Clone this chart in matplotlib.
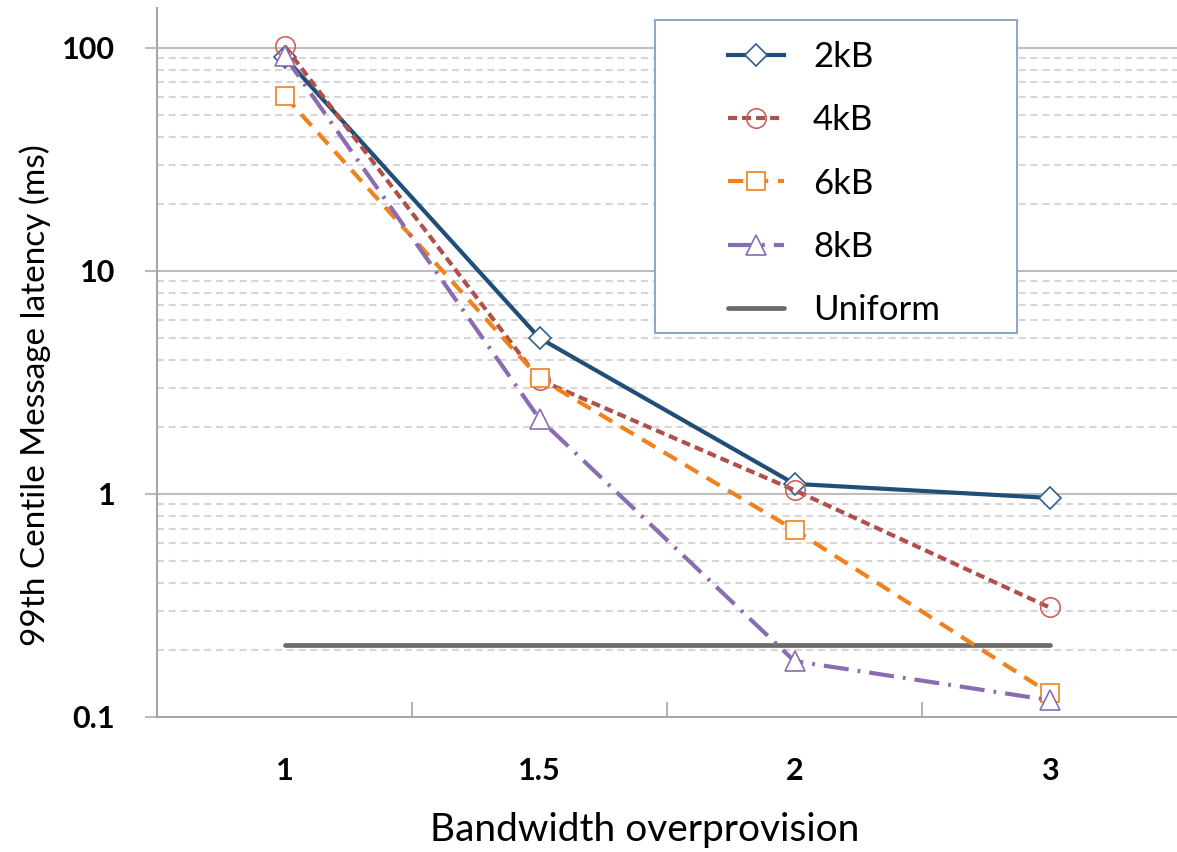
import matplotlib
matplotlib.use("Agg")
import matplotlib.pyplot as plt
from matplotlib.ticker import FixedLocator, NullFormatter
from matplotlib.patches import Rectangle
import numpy as np

plt.rcParams['font.family'] = ['Lato', 'DejaVu Sans']
plt.rcParams['lines.scale_dashes'] = False

categories = ["1", "1.5", "2", "3"]
lat_2kB = [91, 5.0, 1.11, 0.96]
lat_4kB = [102, 3.25, 1.04, 0.31]
lat_6kB = [61, 3.3, 0.69, 0.128]
lat_8kB = [92, 2.17, 0.178, 0.119]
uniform = [0.21, 0.21, 0.21, 0.21]

x = np.arange(len(categories))

W, H = 1177, 852
fig = plt.figure(figsize=(W / 100, H / 100), dpi=100)
ax = fig.add_axes([157 / W, 1 - 717 / H, 1 - 157 / W, (717 - 8) / H])
ax.set_yscale('log')
ax.set_ylim(0.1, 151)
ax.set_xlim(-0.5, 3.5)

# grid
major_y = [0.1, 1, 10, 100]
minor_y = [m * d for d in [0.1, 1, 10, 100] for m in range(2, 10)]
for v in minor_y:
    ax.axhline(v, color='#D6D6D6', lw=1.5, dashes=(5, 3.5), zorder=0)
for v in major_y[1:]:
    ax.axhline(v, color='#BDBDBD', lw=1.5, zorder=0)

lw = 3.0
ax.plot(x, uniform, color='#6B6B6B', lw=lw + 0.4, label='Uniform', zorder=2,
        solid_capstyle='round')
ax.plot(x, lat_2kB, color='#1F4E79', lw=lw, marker='D', ms=11, mfc='white',
        mec='#2E5F8A', mew=1.2, label='2kB', zorder=3)
ax.plot(x, lat_4kB, color='#B0504A', lw=lw, dashes=(6.5, 3.6), marker='o', ms=14,
        mfc='none', mec='#D0605C', mew=1.2, label='4kB', zorder=3)
ax.plot(x, lat_6kB, color='#F0821E', lw=lw, dashes=(11, 7), marker='s', ms=13,
        mfc='white', mec='#F0821E', mew=1.2, label='6kB', zorder=3)
ax.plot(x, lat_8kB, color='#8A6CB0', lw=lw, dashes=(18, 6.5, 2, 6.5), marker='^', ms=14,
        mfc='white', mec='#8A6CB0', mew=1.2, label='8kB', zorder=3)

# axes styling
for s in ['top', 'right']:
    ax.spines[s].set_visible(False)
for s in ['left', 'bottom']:
    ax.spines[s].set_color('#A6A6A6')
    ax.spines[s].set_linewidth(1.5)

ax.set_xticks(x)
ax.set_xticklabels(categories, fontsize=22, fontweight='bold')
ax.tick_params(axis='x', which='major', length=0, pad=29)
ax.xaxis.set_minor_locator(FixedLocator([0.5, 1.5, 2.5]))
ax.tick_params(axis='x', which='minor', length=11, direction='in', color='#A6A6A6', width=1.2)

ax.yaxis.set_major_locator(FixedLocator(major_y))
ax.yaxis.set_minor_locator(FixedLocator(minor_y))
ax.yaxis.set_minor_formatter(NullFormatter())
ax.set_yticklabels(['0.1', '1', '10', '100'], fontsize=22, fontweight='bold')
ax.tick_params(axis='y', which='major', length=9, width=1.5, color='#BDBDBD', pad=21)
ax.tick_params(axis='y', which='minor', length=0)

ax.set_xlabel('Bandwidth overprovision', fontsize=28, va='center')
ax.xaxis.set_label_coords((645 - 157) / 1020, -(830 - 717) / 709)
ax.set_ylabel('99th Centile Message latency (ms)', fontsize=24, va='center')
ax.yaxis.set_label_coords((35 - 157) / 1020, 1 - (395 - 8) / 709)

# legend box
ax.add_patch(Rectangle((655 / W, 1 - 333 / H), (1017 - 655) / W, (333 - 20) / H,
                       transform=fig.transFigure, facecolor='white',
                       edgecolor='#8EA9C8', lw=1.5, zorder=4, clip_on=False))
handles, labels = ax.get_legend_handles_labels()
order = [1, 2, 3, 4, 0]
leg = ax.legend([handles[i] for i in order], [labels[i] for i in order],
                loc='upper left', bbox_to_anchor=((728 - 157) / 1020, 1 - (41 - 8) / 709),
                fontsize=25, frameon=False, handlelength=1.6, handletextpad=0.85,
                labelspacing=0.9, borderpad=0, borderaxespad=0)
leg.set_zorder(5)

fig.savefig('out.png', dpi=100)
